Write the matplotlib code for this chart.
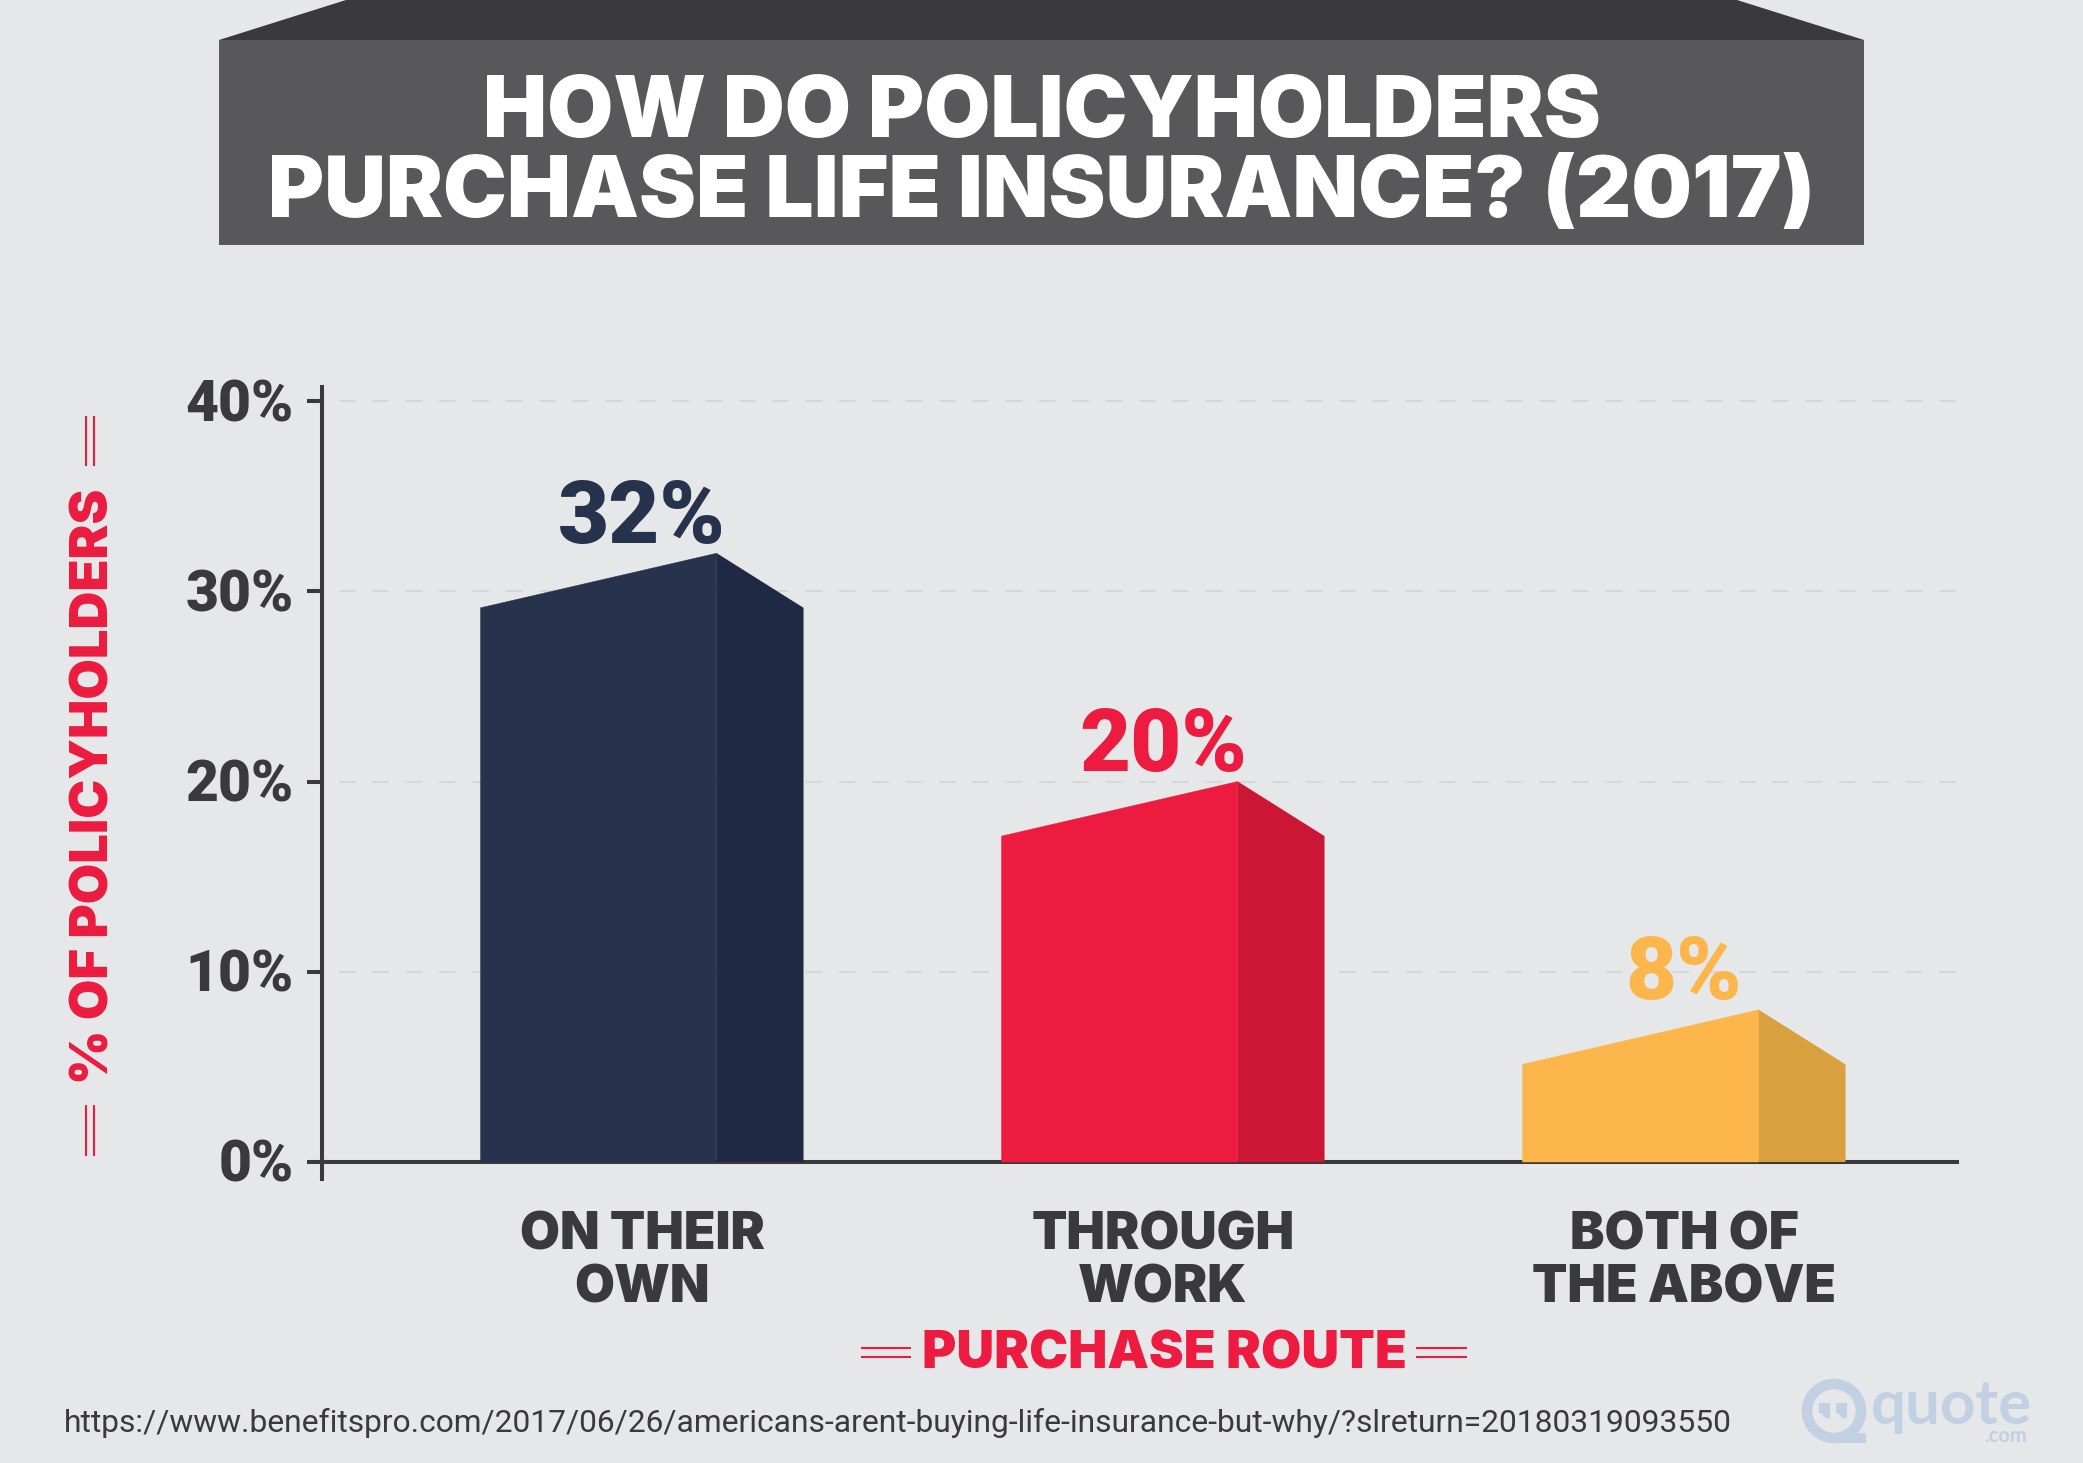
import matplotlib
matplotlib.use("Agg")
import matplotlib.pyplot as plt
from matplotlib.patches import Polygon, Rectangle, Circle
from matplotlib.transforms import ScaledTranslation

W, H = 2083, 1463
BG = "#E6E7E9"
INK = "#3A3A3C"
RED = "#EC1B3F"
FONT = ["Inter", "Lato", "DejaVu Sans"]
NUM_FONT = ["Roboto", "DejaVu Sans"]
LOGO_FONT = ["Lato", "DejaVu Sans"]

title_lines = ["HOW DO POLICYHOLDERS", "PURCHASE LIFE INSURANCE? (2017)"]
categories = ["ON THEIR\nOWN", "THROUGH\nWORK", "BOTH OF\nTHE ABOVE"]
values = [32, 20, 8]
value_labels = ["32%", "20%", "8%"]
front_colors = ["#27324D", "#EC1B3F", "#FDB64B"]
side_colors = ["#1F2944", "#CB1636", "#D9A03F"]
yticks = [0, 10, 20, 30, 40]
ytick_labels = ["0%", "10%", "20%", "30%", "40%"]
xlabel = "PURCHASE ROUTE"
ylabel = "% OF POLICYHOLDERS"
source = "https://www.benefitspro.com/2017/06/26/americans-arent-buying-life-insurance-but-why/?slreturn=20180319093550"

plt.rcParams["font.family"] = FONT
fig = plt.figure(figsize=(W / 100, H / 100), dpi=100, facecolor=BG)

# overlay in pixel coordinates for the decoration
deco = fig.add_axes([0, 0, 1, 1], zorder=0)
deco.set_xlim(0, W)
deco.set_ylim(H, 0)
deco.axis("off")
deco.add_patch(Polygon([(219, 40), (346, 0), (1737, 0), (1864, 40)], fc="#3A3A3C", ec="none"))
deco.add_patch(Rectangle((219, 40), 1645, 205, fc="#58585A", ec="none"))
deco.text(1042, 106, title_lines[0], color="white", fontsize=61.6, fontweight="black", ha="center", va="center_baseline")
deco.text(1042, 186, title_lines[1], color="white", fontsize=61.6, fontweight="black", ha="center", va="center_baseline")
for x in (86, 94):
    deco.plot([x, x], [416, 466], color=RED, lw=1.5, solid_capstyle="butt")
    deco.plot([x, x], [1105, 1156], color=RED, lw=1.5, solid_capstyle="butt")
for y in (1348, 1357):
    deco.plot([861, 911], [y, y], color=RED, lw=1.5, solid_capstyle="butt")
    deco.plot([1416, 1467], [y, y], color=RED, lw=1.5, solid_capstyle="butt")
deco.text(64, 1420, source, color=INK, fontsize=22.9, family=NUM_FONT, ha="left", va="center_baseline")

# watermark
LOGO = "#C2D0E3"
deco.add_patch(Circle((1834, 1411), 27, fc="none", ec=LOGO, lw=7.6))
deco.add_patch(Rectangle((1834, 1433), 32, 10, fc=LOGO, ec="none"))
for qx in (1819, 1836):
    deco.add_patch(Polygon([(qx, 1403), (qx + 11, 1403), (qx + 11, 1419), (qx + 5, 1417), (qx + 3, 1414), (qx, 1413)], fc=LOGO, ec="none"))
deco.text(1871, 1424, "quote", color=LOGO, fontsize=44.5, family=LOGO_FONT, fontweight="bold", ha="left", va="baseline")
deco.text(2027, 1442, ".com", color=LOGO, fontsize=14.5, family=LOGO_FONT, fontweight="bold", ha="right", va="baseline")

# chart
y_zero, y_forty = 1162, 401
axis_top, axis_bottom = 387, 1179
px_per_pct = (y_zero - y_forty) / 40
x0, sp = 642, 521
ax = fig.add_axes([322 / W, 1 - axis_bottom / H, (1957 - 322) / W, (axis_bottom - axis_top) / H], zorder=1)
ax.patch.set_alpha(0)
ax.set_xlim((322 - x0) / sp, (1957 - x0) / sp)
ax.set_ylim(-(axis_bottom - y_zero) / px_per_pct, 40 + (y_forty - axis_top) / px_per_pct)
for s in ("top", "right"):
    ax.spines[s].set_visible(False)
ax.spines["bottom"].set_position(("data", 0))
for s in ("left", "bottom"):
    ax.spines[s].set_color(INK)
    ax.spines[s].set_linewidth(2.9)
ax.set_yticks(yticks, ytick_labels)
ax.tick_params(axis="y", length=10.8, width=2.9, color=INK, labelcolor=INK, labelsize=41, pad=9.5)
shift_up = ScaledTranslation(0, 0.015, fig.dpi_scale_trans)
for t in ax.get_yticklabels():
    t.set_fontweight("black")
    t.set_fontfamily(NUM_FONT)
    t.set_transform(t.get_transform() + shift_up)
ax.set_xticks(range(3), categories)
ax.tick_params(axis="x", length=0, labelcolor=INK, labelsize=37.2, pad=36)
for t in ax.get_xticklabels():
    t.set_fontweight("black")
    t.set_linespacing(1.1)
for v in yticks[1:]:
    ax.plot([(339 - x0) / sp, (1957 - x0) / sp], [v, v], color="#D6D7D9", lw=1.5, dashes=(8, 8), zorder=0)

width = 0.62
ridge = 0.7315
drop = 2.87
for i, v in enumerate(values):
    l, r = i - width / 2, i + width / 2
    m = l + width * ridge
    ax.fill([l, l, m, m], [0, v - drop, v, 0], fc=front_colors[i], ec=front_colors[i], lw=0.3, zorder=3)
    ax.fill([m, m, r, r], [0, v, v - drop, 0], fc=side_colors[i], ec="none", lw=0, zorder=3)
    ax.text(i, v + 0.55, value_labels[i], color=front_colors[i], fontsize=63.5, fontweight="black", family=NUM_FONT, ha="center", va="baseline", zorder=4)

ax.set_xlabel(xlabel, color=RED, fontsize=37.6, fontweight="black")
ax.xaxis.set_label_coords((1164 - 322) / (1957 - 322), 1 - (1355 - axis_top) / (axis_bottom - axis_top), transform=ax.transAxes)
ax.xaxis.label.set_va("center")
ax.set_ylabel(ylabel, color=RED, fontsize=37.7, fontweight="black")
ax.yaxis.set_label_coords((95 - 322) / (1957 - 322), 1 - (786 - axis_top) / (axis_bottom - axis_top), transform=ax.transAxes)
ax.yaxis.label.set_va("center")

fig.savefig("out.png", dpi=100, facecolor=BG)
